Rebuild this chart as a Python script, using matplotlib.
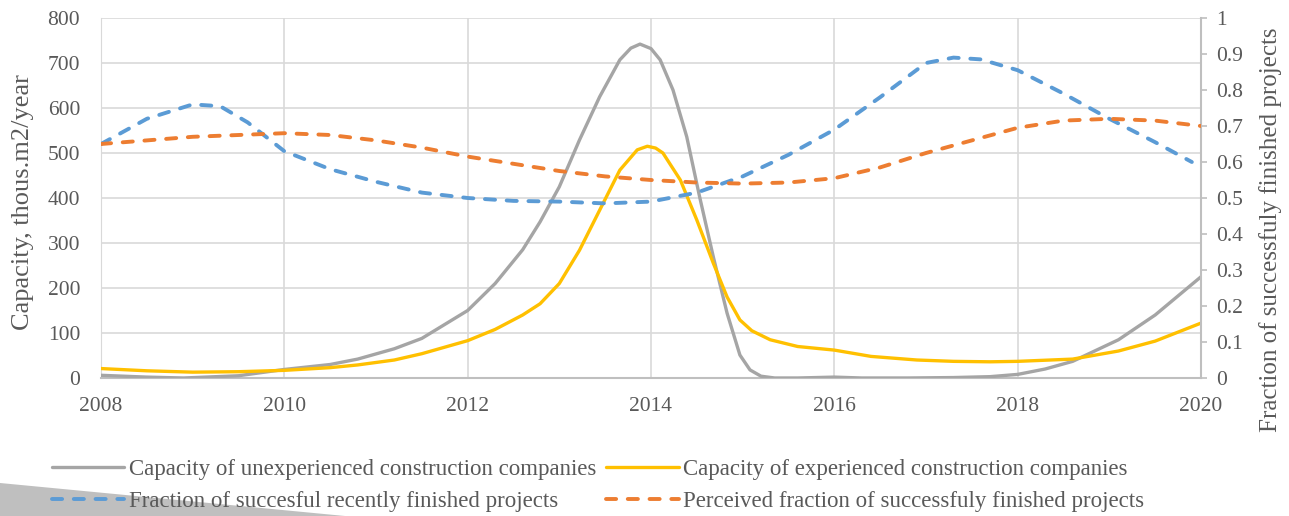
import matplotlib
matplotlib.use("Agg")
import matplotlib.pyplot as plt
from matplotlib.patches import Polygon

plt.rcParams['font.family'] = ['Liberation Serif', 'DejaVu Serif']

TXT = '#595959'

# --- data ---
x_unexp = [2008.0, 2008.5, 2008.9, 2009.5, 2010.0, 2010.5, 2010.8, 2011.2, 2011.5, 2012.0,
           2012.3, 2012.6, 2012.79, 2013.0, 2013.22, 2013.44, 2013.66, 2013.78, 2013.88, 2014.0,
           2014.1, 2014.24, 2014.39, 2014.53, 2014.68, 2014.83, 2014.97, 2015.08, 2015.2, 2015.35,
           2015.6, 2016.0, 2016.3, 2016.8, 2017.3, 2017.7, 2018.0, 2018.3, 2018.6, 2019.1,
           2019.5, 2020.0]
y_unexp = [6, 2, 0, 5, 19, 30, 42, 65, 88, 150,
           210, 285, 347, 425, 529, 625, 707, 733, 742, 732,
           707, 640, 536, 403, 269, 144, 51, 18, 4, 0,
           0, 2, 0, 0, 1, 3, 8, 20, 37, 85,
           140, 225]

x_exp = [2008.0, 2008.5, 2009.0, 2009.5, 2010.0, 2010.5, 2010.8, 2011.2, 2011.5, 2012.0,
         2012.3, 2012.6, 2012.79, 2013.0, 2013.22, 2013.44, 2013.66, 2013.85, 2013.96, 2014.05,
         2014.13, 2014.32, 2014.5, 2014.68, 2014.83, 2014.97, 2015.1, 2015.3, 2015.6, 2016.0,
         2016.4, 2016.9, 2017.3, 2017.7, 2018.0, 2018.6, 2019.1, 2019.5, 2020.0]
y_exp = [21, 16, 13, 14, 17, 23, 29, 40, 54, 83,
         108, 140, 165, 210, 284, 373, 462, 507, 515, 511,
         500, 440, 351, 255, 180, 129, 105, 85, 70, 62,
         48, 40, 37, 36, 37, 42, 60, 82, 122]

x_frac = [2008.0, 2008.5, 2009.0, 2009.3, 2009.6, 2010.0, 2010.5, 2011.0, 2011.5, 2012.0,
          2012.5, 2013.0, 2013.5, 2014.0, 2014.5, 2015.0, 2015.5, 2016.0, 2016.5, 2017.0,
          2017.3, 2017.6, 2018.0, 2018.5, 2019.0, 2019.5, 2019.9]
y_frac = [0.65, 0.72, 0.76, 0.755, 0.71, 0.63, 0.58, 0.545, 0.515, 0.50,
          0.492, 0.49, 0.485, 0.49, 0.515, 0.56, 0.62, 0.69, 0.78, 0.875,
          0.89, 0.885, 0.855, 0.79, 0.72, 0.655, 0.60]

x_perc = [2008.0, 2008.5, 2009.0, 2009.5, 2010.0, 2010.5, 2011.0, 2011.5, 2012.0, 2012.5,
          2013.0, 2013.5, 2014.0, 2014.5, 2015.0, 2015.5, 2016.0, 2016.5, 2017.0, 2017.5,
          2018.0, 2018.5, 2019.0, 2019.5, 2020.0]
y_perc = [0.65, 0.66, 0.67, 0.675, 0.68, 0.675, 0.66, 0.64, 0.615, 0.595,
          0.575, 0.56, 0.55, 0.543, 0.54, 0.543, 0.555, 0.585, 0.625, 0.66,
          0.695, 0.715, 0.72, 0.715, 0.70]

labels = ['Capacity of unexperienced construction companies',
          'Capacity of experienced construction companies',
          'Fraction of succesful recently finished projects',
          'Perceived fraction of successfuly finished projects']
x_ticks = [2008, 2010, 2012, 2014, 2016, 2018, 2020]
y_left_ticks = [0, 100, 200, 300, 400, 500, 600, 700, 800]
y_right_ticks = [0, 0.1, 0.2, 0.3, 0.4, 0.5, 0.6, 0.7, 0.8, 0.9, 1]
y_right_labels = ['0', '0.1', '0.2', '0.3', '0.4', '0.5', '0.6', '0.7', '0.8', '0.9', '1']

fig = plt.figure(figsize=(12.89, 5.16), dpi=100)
# decorative grey triangle bottom-left
tri = Polygon([(0, 0), (0, 33 / 516), (345 / 1289, 0)], closed=True,
              transform=fig.transFigure, facecolor='#BFBFBF', edgecolor='none', zorder=0)
fig.patches.append(tri)

ax = fig.add_axes([101 / 1289, 1 - 378 / 516, 1100 / 1289, 360 / 516])
ax.patch.set_alpha(0)
ax2 = ax.twinx()

l1, = ax.plot(x_unexp, y_unexp, color='#A5A5A5', lw=2.4, solid_capstyle='round',
              solid_joinstyle='round', zorder=3)
l2, = ax.plot(x_exp, y_exp, color='#FFC000', lw=2.4, solid_capstyle='round',
              solid_joinstyle='round', zorder=3)
l3, = ax2.plot(x_frac, y_frac, color='#5B9BD5', lw=2.8, dashes=(2.6, 3.0),
               dash_capstyle='round', zorder=3)
l4, = ax2.plot(x_perc, y_perc, color='#ED7D31', lw=2.8, dashes=(2.6, 3.0),
               dash_capstyle='round', zorder=3)

ax.set_xlim(2008, 2020)
ax.set_ylim(0, 800)
ax2.set_ylim(0, 1)
ax.set_xticks(x_ticks)
ax.set_yticks(y_left_ticks)
ax2.set_yticks(y_right_ticks)
ax2.set_yticklabels(y_right_labels)

ax.grid(True, color='#D9D9D9', lw=1.2)
ax.set_axisbelow(True)
for s in ['top', 'right']:
    ax.spines[s].set_visible(False)
ax.spines['left'].set_color('#D9D9D9')
ax.spines['bottom'].set_color('#BFBFBF')
ax.spines['bottom'].set_linewidth(1.5)
for s in ['top', 'left', 'bottom']:
    ax2.spines[s].set_visible(False)
ax2.spines['right'].set_color('#BFBFBF')
ax2.spines['right'].set_linewidth(1.5)

ax.tick_params(axis='y', length=0, labelsize=15.5, colors=TXT, pad=15)
ax.tick_params(axis='x', length=0, labelsize=15.5, colors=TXT, pad=14)
ax2.tick_params(axis='y', length=4, width=1.2, color='#BFBFBF', labelsize=15.5,
                labelcolor=TXT, pad=7)

ax.set_ylabel('Capacity, thous.m2/year', fontsize=19, color=TXT)
ax.yaxis.set_label_coords((34 - 101) / 1100, (378 - 202) / 360)
ax2.set_ylabel('Fraction of successfuly finished projects', fontsize=18, color=TXT)
ax2.yaxis.set_label_coords((1259 - 101) / 1100, (378 - 230) / 360)

fig.legend([l1, l3, l2, l4], [labels[0], labels[2], labels[1], labels[3]], ncol=2,
           frameon=False, fontsize=16.5, labelcolor=TXT, loc='center left',
           bbox_to_anchor=(52 / 1289, 1 - 485.5 / 516), borderaxespad=0, borderpad=0,
           handlelength=3.15, handletextpad=0.2, columnspacing=0.45, labelspacing=0.47)

fig.savefig('out.png', dpi=100)
